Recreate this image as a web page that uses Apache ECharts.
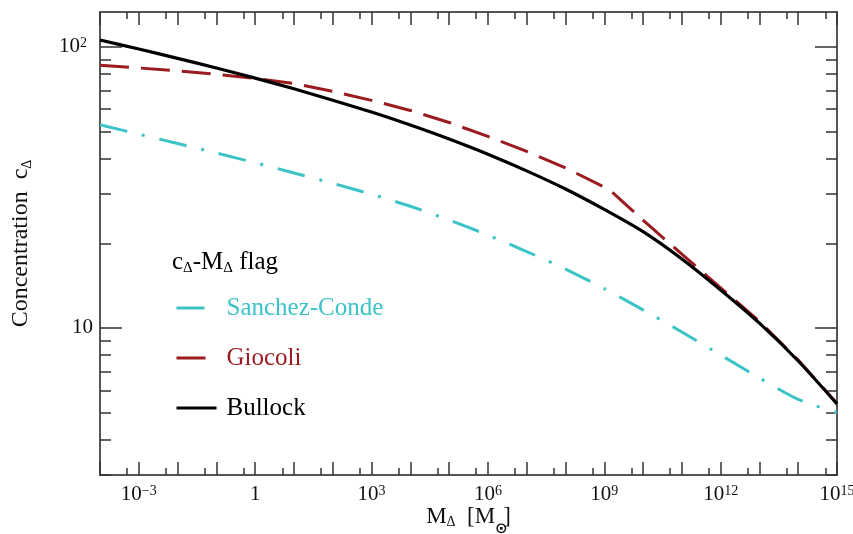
<!DOCTYPE html>
<html><head><meta charset="utf-8">
<script src="https://cdn.jsdelivr.net/npm/echarts@6/dist/echarts.min.js"></script>
<style>html,body{margin:0;padding:0;background:#fff}#c{width:853px;height:534px}</style>
</head><body><div id="c"></div>
<script>
// ---- data ----
const massValues = [1e-4, 1e-3, 1e-2, 1e-1, 1, 10, 100, 1e3, 1e4, 1e5, 1e6, 1e7, 1e8, 1e9, 1e10, 1e11, 1e12, 1e13, 1e14, 1e15];
const bullock = [105.8, 98.2, 91.0, 84.1, 77.4, 70.9, 64.6, 58.6, 52.7, 47.0, 41.5, 36.2, 31.2, 26.4, 22.0, 17.6, 13.65, 10.4, 7.63, 5.37];
const sanchezConde = [52.8, 48.9, 45.3, 41.9, 38.7, 35.6, 32.7, 29.9, 27.1, 24.2, 21.4, 18.7, 16.2, 13.8, 11.6, 9.68, 8.02, 6.64, 5.57, 5.00];
const giocoliMass = [1e-4, 1e-3, 1e-2, 1e-1, 1, 10, 100, 1e3, 1e4, 1e5, 1e6, 1e7, 1e8, 1e9, 1.3e9, 1e10, 1e11, 1e12, 1e13, 1e14, 1e15];
const giocoli = [86.0, 84.1, 82.1, 79.8, 77.2, 74.1, 69.4, 64.5, 59.4, 53.8, 48.0, 42.5, 37.1, 31.7, 31.2, 24.2, 18.3, 13.9, 10.55, 7.69, 5.39];

const xMajorTicks = [1e-4, 1e-3, 1e-2, 1e-1, 1, 10, 100, 1e3, 1e4, 1e5, 1e6, 1e7, 1e8, 1e9, 1e10, 1e11, 1e12, 1e13, 1e14, 1e15];
const xMinorTicks = [5e-4, 5e-3, 5e-2, 0.5, 5, 50, 500, 5e3, 5e4, 5e5, 5e6, 5e7, 5e8, 5e9, 5e10, 5e11, 5e12, 5e13, 5e14];
const xLabelValues = [1e-3, 1, 1e3, 1e6, 1e9, 1e12, 1e15];
const yMajorTicks = [10, 100];
const yMinorTicks = [3, 4, 5, 6, 7, 8, 9, 20, 30, 40, 50, 60, 70, 80, 90];
const yLabelValues = [10, 100];

const xMin = 0.99999e-4, xMax = 1.0002e15, yMin = 2.9999, yMax = 133;

// ---- style ----
const FONT = "'Liberation Serif', 'DejaVu Serif', serif";
const CYAN = '#3cc3c7';
const RED = '#9b1b1e';
const BLACK = '#000000';
const axisLineStyle = { color: '#555', width: 2 };
const tickStyle = { color: '#333', width: 1.5 };

const labelRich = {
  sup: { fontSize: 14, lineHeight: 14, verticalAlign: 'top', fontFamily: FONT, color: '#111' },
  pad: { width: 6 }
};

function fmtX(v) {
  const e = Math.round(Math.log10(v));
  if (e === 0) return '1';
  return '10{sup|' + (e < 0 ? '\u2212' + (-e) : e) + '}';
}
function fmtY(v) {
  const e = Math.round(Math.log10(v));
  if (e === 1) return '10';
  return '10{sup|' + e + '}{pad|}';
}

function xAx(pos, ticks, len, withLine, labels) {
  return {
    type: 'log', logBase: 10, min: xMin, max: xMax, position: pos,
    axisLine: { show: withLine, onZero: false, lineStyle: axisLineStyle },
    axisTick: { show: true, inside: true, length: len, customValues: ticks, lineStyle: tickStyle },
    axisLabel: labels ? {
      show: true, customValues: xLabelValues, formatter: fmtX, margin: 9,
      showMinLabel: true, showMaxLabel: true, hideOverlap: false,
      fontFamily: FONT, fontSize: 21, lineHeight: 21, color: '#111', rich: labelRich
    } : { show: false },
    splitLine: { show: false }, minorTick: { show: false }, minorSplitLine: { show: false }
  };
}
function yAx(pos, ticks, len, withLine, labels) {
  return {
    type: 'log', logBase: 10, min: yMin, max: yMax, position: pos,
    axisLine: { show: withLine, onZero: false, lineStyle: axisLineStyle },
    axisTick: { show: true, inside: true, length: len, customValues: ticks, lineStyle: tickStyle },
    axisLabel: labels ? {
      show: true, customValues: yLabelValues, formatter: fmtY, margin: 7,
      fontFamily: FONT, fontSize: 21, lineHeight: 21, color: '#111', rich: labelRich
    } : { show: false },
    splitLine: { show: false }, minorTick: { show: false }, minorSplitLine: { show: false }
  };
}

const xAxes = [
  xAx('bottom', xMajorTicks, 13, true, true),
  xAx('bottom', xMinorTicks, 7, false, false),
  xAx('top', xMajorTicks, 13, true, false),
  xAx('top', xMinorTicks, 7, false, false)
];
Object.assign(xAxes[0], {
  name: 'M{sub|\u0394}  [M{gap|}]',
  nameLocation: 'middle', nameGap: 30, nameMoveOverlap: false,
  nameTextStyle: {
    fontFamily: FONT, fontSize: 23, lineHeight: 24, color: '#111',
    rich: {
      sub: { fontSize: 14, lineHeight: 14, verticalAlign: 'bottom', padding: [8, 0, 0, 0], fontFamily: FONT, color: '#111' },
      gap: { width: 8 }
    }
  }
});
const yAxes = [
  yAx('left', yMajorTicks, 22, true, true),
  yAx('left', yMinorTicks, 11, false, false),
  yAx('right', yMajorTicks, 22, true, false),
  yAx('right', yMinorTicks, 11, false, false)
];
Object.assign(yAxes[0], {
  name: 'Concentration  c{sub|\u0394}',
  nameLocation: 'middle', nameGap: 66, nameRotate: 90, nameMoveOverlap: false,
  nameTextStyle: {
    fontFamily: FONT, fontSize: 24, lineHeight: 26, color: '#111',
    rich: {
      sub: { fontSize: 14, lineHeight: 14, verticalAlign: 'bottom', padding: [10, 0, 0, 0], fontFamily: FONT, color: '#111' }
    }
  }
});

const pairs = (xs, ys) => xs.map((x, i) => [x, ys[i]]);

const option = {
  animation: false,
  backgroundColor: '#fff',
  grid: { left: 100, right: 16, top: 12, bottom: 59, containLabel: false, outerBoundsMode: 'none' },
  title: {
    text: 'c{sub|\u0394}-M{sub|\u0394} flag',
    left: 172, top: 249, padding: 0,
    textStyle: {
      fontFamily: FONT, fontSize: 25, fontWeight: 'normal', color: '#000', lineHeight: 27,
      rich: { sub: { fontSize: 15, lineHeight: 15, verticalAlign: 'bottom', padding: [6, 0, 0, 0], fontFamily: FONT, color: '#000' } }
    }
  },
  graphic: [
    { type: 'text', left: 495, top: 522, z: 100,
      style: { text: '\u2299', fontFamily: 'DejaVu Sans', fontSize: 15, fontWeight: 'bold', fill: '#111' } }
  ],
  legend: {
    orient: 'vertical', left: 175, top: 293, padding: 0,
    itemWidth: 40, itemHeight: 14, itemGap: 20,
    selectedMode: false,
    itemStyle: { opacity: 0 },
    lineStyle: { width: 3 },
    textStyle: { fontFamily: FONT, fontSize: 25, lineHeight: 30, padding: [0, 0, 0, 5] },
    data: [
      { name: 'Sanchez-Conde', textStyle: { color: CYAN } },
      { name: 'Giocoli', textStyle: { color: RED } },
      { name: 'Bullock', textStyle: { color: BLACK } }
    ]
  },
  xAxis: xAxes,
  yAxis: yAxes,
  series: [
    {
      name: 'Sanchez-Conde', type: 'line', xAxisIndex: 0, yAxisIndex: 0,
      data: pairs(massValues, sanchezConde), symbol: 'none', smooth: 0.25,
      lineStyle: { color: CYAN, width: 3, type: [28, 15, 3, 15] }, itemStyle: { color: CYAN }
    },
    {
      name: 'Giocoli', type: 'line', xAxisIndex: 0, yAxisIndex: 0,
      data: pairs(giocoliMass, giocoli), symbol: 'none', smooth: false,
      lineStyle: { color: RED, width: 3, type: [29, 12] }, itemStyle: { color: RED }
    },
    {
      name: 'Bullock', type: 'line', xAxisIndex: 0, yAxisIndex: 0,
      data: pairs(massValues, bullock), symbol: 'none', smooth: 0.25,
      lineStyle: { color: BLACK, width: 3.2, type: 'solid' }, itemStyle: { color: BLACK }
    }
  ]
};

const chart = echarts.init(document.getElementById('c'), null, { renderer: 'canvas' });
chart.setOption(option);
</script>
</body></html>
